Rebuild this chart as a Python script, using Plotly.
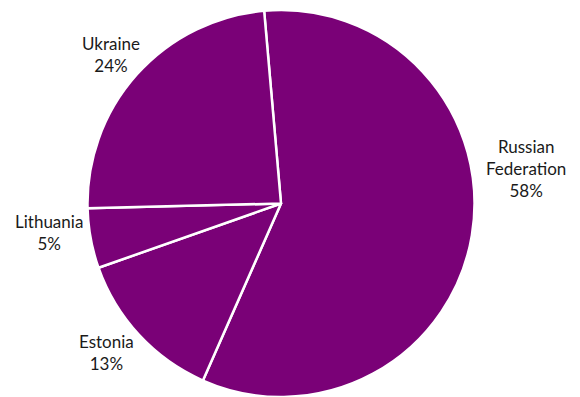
import plotly.graph_objects as go

labels = ["Russian Federation", "Estonia", "Lithuania", "Ukraine"]
display_labels = ["Russian<br>Federation", "Estonia", "Lithuania", "Ukraine"]
values = [58, 13, 5, 24]

# label block centres in pixels (x, y from top) - layout, not data
label_px = [(526, 169), (106, 352), (49, 232), (111, 54)]

W, H = 580, 397
MT, MB = 10, 0

fig = go.Figure(go.Pie(
    labels=labels,
    values=values,
    sort=False,
    direction="clockwise",
    rotation=-5,
    marker=dict(colors=["#7a0177"] * 4, line=dict(color="white", width=2.5)),
    textinfo="none",
    domain=dict(x=[0, 562 / 580], y=[0, 1]),
    showlegend=False,
    hoverinfo="label+percent",
))

total = sum(values)
for name, v, (px, py) in zip(display_labels, values, label_px):
    fig.add_annotation(
        x=px / W, y=(H - py) / (H - MT - MB),
        xref="paper", yref="paper",
        text=f"{name}<br>{round(100 * v / total)}%",
        showarrow=False, xanchor="center", yanchor="middle", align="center",
        font=dict(family="Lato, sans-serif", size=17, color="#1a1a1a"),
    )

fig.update_layout(
    width=W, height=H,
    margin=dict(l=0, r=0, t=MT, b=MB),
    paper_bgcolor="white",
    plot_bgcolor="white",
)

fig.write_html("out.html")
